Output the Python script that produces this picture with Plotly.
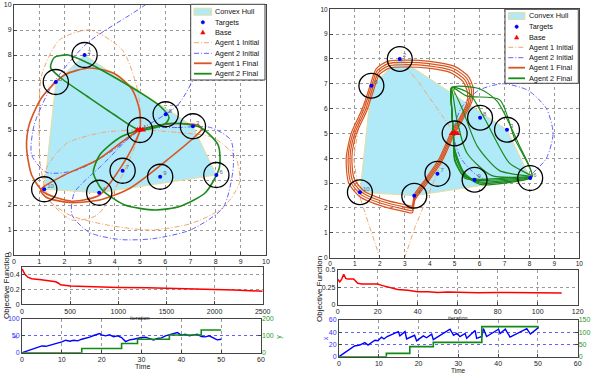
import plotly.graph_objects as go

W, H = 591, 374
FONT = "Liberation Sans"

# ---------------- data ----------------
target_ids = [1, 2, 3, 4, 5, 6, 7, 8, 9, 10]
target_x = [5.0, 2.8, 7.1, 3.38, 1.66, 8.03, 4.31, 6.02, 5.8, 1.2]
target_y = [5.0, 8.0, 5.15, 2.49, 6.92, 3.2, 3.37, 5.63, 3.13, 2.63]
target_r = 0.5
base_x = [4.9, 5.0, 5.1]
base_y = [5.0, 5.03, 5.0]

# left panel trajectories
L_a1i_x = [[5.0, 4.9, 4.3, 3.0, 1.8, 1.1, 1.0, 1.05, 1.4, 2.3, 3.3, 4.3, 5.0],
           [5.0, 6.5, 7.9, 8.8, 8.95, 8.3, 7.0, 5.4, 3.7, 2.2, 1.2, 1.3, 2.1, 3.5, 5.0]]
L_a1i_y = [[5.0, 6.6, 8.2, 9.0, 8.6, 7.2, 5.3, 3.6, 2.2, 1.4, 1.6, 3.2, 5.0],
           [5.0, 4.9, 4.7, 3.9, 2.9, 1.9, 1.25, 1.0, 1.2, 1.6, 2.4, 3.5, 4.47, 4.9, 5.0]]
L_a2i_x = [[5.0, 6.5, 7.5, 8.3, 8.4, 7.0, 5.2, 2.9, 1.56, 0.8, 0.7, 1.3, 2.5, 3.8, 5.0],
           [5.0, 6.5, 7.8, 8.6, 8.7, 8.3, 7.0, 5.5, 4.2, 3.0, 2.3, 2.4, 3.5, 5.0]]
L_a2i_y = [[5.0, 6.0, 7.8, 9.5, 10.8, 11.5, 10.0, 8.47, 6.87, 5.2, 4.0, 3.3, 3.4, 4.1, 5.0],
           [5.0, 5.1, 5.1, 4.6, 3.5, 1.9, 1.0, 0.65, 0.62, 0.9, 1.6, 2.5, 3.6, 5.0]]
L_a1f_x = [[5.0, 4.98, 4.7, 4.0, 3.0, 2.0, 1.1, 0.6, 0.5, 0.7, 1.2, 2.3, 3.4, 4.3, 4.75, 5.0],
           [5.0, 6.3, 7.3, 7.45, 7.3, 6.2, 4.6, 3.4, 2.2, 1.3, 1.05, 2.0, 3.3, 5.0]]
L_a1f_y = [[5.0, 5.8, 6.6, 7.25, 7.48, 7.2, 6.3, 5.2, 4.3, 3.2, 2.5, 2.15, 2.4, 3.6, 4.4, 5.0],
           [5.0, 5.25, 5.2, 5.05, 4.85, 3.9, 2.67, 2.2, 2.1, 2.3, 2.6, 3.2, 3.8, 5.0]]
L_a2f_x = [[5.0, 6.0, 6.15, 5.8, 5.0, 4.0, 3.0, 2.15, 1.6, 1.45, 1.9, 2.9, 4.0, 5.0],
           [5.0, 6.3, 7.4, 8.1, 8.15, 7.6, 6.6, 5.6, 4.4, 3.5, 3.15, 3.4, 4.2, 5.0]]
L_a2f_y = [[5.0, 5.25, 5.5, 5.95, 6.5, 7.1, 7.65, 8.0, 7.9, 7.5, 7.05, 6.35, 5.6, 5.0],
           [5.0, 5.27, 5.1, 4.4, 3.5, 2.5, 1.95, 1.8, 2.0, 2.6, 3.3, 4.0, 4.7, 5.0]]

# right panel trajectories
R_a1i_x = [5.0, 4.3, 3.4, 2.5, 1.6, 1.15, 0.95, 1.2, 1.64, 2.1, 2.8, 3.6, 4.3, 5.0]
R_a1i_y = [5.0, 3.4, 1.2, -1.5, 1.2, 2.6, 4.0, 5.6, 6.9, 7.6, 8.0, 7.0, 6.0, 5.0]
R_a2i_x = [4.95, 5.25, 5.95, 6.95, 7.95, 8.68, 8.95, 8.68, 7.95, 6.95, 5.95, 5.25, 4.95]
R_a2i_y = [5.0, 6.0, 6.73, 7.0, 6.73, 6.0, 5.0, 4.0, 3.27, 3.0, 3.27, 4.0, 5.0]
R_a1f_x = [5.0, 5.35, 5.7, 5.75, 5.55, 5.0, 4.0, 3.0, 2.3, 1.85, 1.6, 1.3, 0.85, 0.65,
           0.75, 1.2, 2.0, 3.0, 3.3, 3.4, 3.9, 4.5, 5.0]
R_a1f_y = [5.0, 5.6, 6.3, 6.8, 7.3, 7.7, 7.9, 7.95, 7.9, 7.6, 6.9, 6.0, 5.0, 4.0,
           3.0, 2.45, 2.1, 1.85, 1.8, 2.3, 3.0, 3.9, 5.0]
R_a1f_scales = [1.0, 0.97, 0.94, 0.91]
R_a1f_center = (3.2, 4.9)
R_a2f_x = [[4.95, 4.88, 4.88, 5.5, 6.8, 7.4, 8.1, 7.0, 6.0, 5.4, 5.0, 4.95],
           [4.95, 4.88, 4.88, 5.6, 6.2, 7.2, 8.1, 7.0, 6.0, 5.4, 5.0, 4.95],
           [4.95, 4.88, 4.88, 5.3, 5.9, 6.8, 8.1, 7.0, 6.0, 5.4, 5.0, 4.95],
           [4.95, 4.88, 4.88, 6.0, 6.7, 7.6, 8.1, 7.0, 6.0, 5.4, 5.0, 4.95],
           [4.95, 4.88, 4.88, 5.1, 5.5, 6.5, 8.1, 7.0, 6.0, 5.4, 5.0, 4.95]]
R_a2f_y = [[5.0, 6.0, 6.85, 6.5, 6.36, 4.8, 3.25, 3.05, 3.0, 3.4, 4.3, 5.0],
           [5.0, 6.0, 6.85, 6.6, 5.6, 3.8, 3.25, 3.1, 3.05, 3.3, 4.2, 5.0],
           [5.0, 6.0, 6.85, 6.0, 4.5, 3.5, 3.25, 3.15, 3.1, 3.2, 4.0, 5.0],
           [5.0, 6.0, 6.85, 6.8, 6.3, 4.5, 3.25, 3.0, 2.95, 3.35, 4.4, 5.0],
           [5.0, 6.0, 6.85, 5.5, 4.2, 3.3, 3.25, 3.2, 3.15, 3.25, 3.9, 5.0]]

# objective functions
L_obj_iter = [0, 10, 30, 60, 100, 200, 300, 350, 380, 400, 500, 700, 1000, 1300, 1500,
              1700, 2000, 2200, 2500]
L_obj_val = [0.47, 0.44, 0.40, 0.36, 0.34, 0.325, 0.31, 0.30, 0.28, 0.26, 0.245, 0.235,
             0.225, 0.22, 0.215, 0.21, 0.20, 0.19, 0.175]
R_obj_iter = [0, 1, 2, 3, 4, 5, 8, 10, 12, 20, 22, 25, 28, 30, 35, 40, 45, 50, 55, 60,
              70, 80, 90, 100, 112]
R_obj_val = [0.37, 0.33, 0.37, 0.44, 0.38, 0.37, 0.37, 0.31, 0.30, 0.30, 0.28, 0.26, 0.24,
             0.22, 0.21, 0.19, 0.19, 0.18, 0.185, 0.18, 0.175, 0.18, 0.175, 0.175, 0.17]

# x / y time series
L_t = [0, 2, 4, 5, 6, 8, 10, 11, 12, 13, 14, 15, 16, 17, 18, 19, 19.5, 20, 21, 22, 23, 24,
       25, 26, 27, 28, 29, 30, 31, 32, 33, 34, 35, 36, 37, 38, 39, 40, 41, 42, 43, 44, 45,
       46, 47, 48, 49, 50]
L_x = [0, 8, 17, 20, 19, 25, 32, 37, 34, 37, 35, 40, 42, 46, 51, 55, 57, 53, 50, 53, 47, 50,
       45, 33, 38, 40, 43, 45, 46, 42, 38, 42, 44, 50, 53, 55, 60, 52, 55, 50, 53, 55, 48,
       47, 50, 45, 38, 40]
L_step_t = [0, 15, 25, 29, 37, 45, 50]
L_step_y = [0, 25, 55, 80, 105, 135, 135]
R_t = [0, 3.9, 5.2, 6.5, 7.3, 9, 9.8, 10.7, 11.3, 12.1, 14.9, 15.3, 16.6, 17, 19, 19.5,
       21.2, 22, 23.3, 23.7, 27.9, 28.8, 29.6, 30.4, 31.7, 32.1, 34.2, 34.6, 35.9, 36.3,
       37.1, 40.1, 40.5, 41.8, 43, 47.2, 48.1, 50.2]
R_x = [0, 17.5, 19, 23, 19, 27, 26, 32, 29, 33, 41, 34, 41, 29, 35, 26, 34, 31, 37, 28,
       45, 35, 38, 33, 38, 30, 43, 30, 33, 46, 33, 45, 38, 45, 32, 46, 37, 48]
R_step_t = [0, 11.9, 17.8, 23.7, 35.9, 50.2]
R_step_y = [0, 13.6, 41, 58.7, 122.8, 122.8]

# ---------------- styles ----------------
HULL_FILL = "#b0e9f8"
HULL_EDGE = "#eedd99"
C_A1I = "#f2a66a"
C_A2I = "#5f5fff"
C_A1F = "#d9541e"
C_A2F = "#1a8a1a"
DASHDOT = "5px,2px,1px,2px"


def hull(xs, ys):
    pts = sorted(set(zip(xs, ys)))

    def cross(o, a, b):
        return (a[0] - o[0]) * (b[1] - o[1]) - (a[1] - o[1]) * (b[0] - o[0])
    lower, upper = [], []
    for p in pts:
        while len(lower) >= 2 and cross(lower[-2], lower[-1], p) <= 0:
            lower.pop()
        lower.append(p)
    for p in reversed(pts):
        while len(upper) >= 2 and cross(upper[-2], upper[-1], p) <= 0:
            upper.pop()
        upper.append(p)
    h = lower[:-1] + upper[:-1]
    h.append(h[0])
    return [p[0] for p in h], [p[1] for p in h]


def xd(a, b):
    return [a / W, b / W]


def yd(top, bottom):
    return [1 - bottom / H, 1 - top / H]


fig = go.Figure()
shapes = []
annotations = []

hx, hy = hull(target_x, target_y)


def map_panel(xa, ya, a1i, a2i, a1f, a2f, a1i_shape="spline", fw=1.6):
    fig.add_trace(go.Scatter(x=hx, y=hy, fill="toself", fillcolor=HULL_FILL, mode="lines",
                             line=dict(color=HULL_EDGE, width=1), xaxis=xa, yaxis=ya,
                             showlegend=False, hoverinfo="skip"))
    for (xs, ys), col, w, dash, shape in (
            [(p, C_A1I, 1.0, DASHDOT, a1i_shape) for p in a1i] +
            [(p, C_A2I, 1.0, DASHDOT, "spline") for p in a2i] +
            [(p, C_A1F, fw, "solid", "spline") for p in a1f] +
            [(p, C_A2F, fw, "solid", "spline") for p in a2f]):
        fig.add_trace(go.Scatter(x=xs, y=ys, mode="lines",
                                 line=dict(color=col, width=w, dash=dash, shape=shape,
                                           smoothing=0.7),
                                 xaxis=xa, yaxis=ya, showlegend=False, hoverinfo="skip"))
    for tx, ty in zip(target_x, target_y):
        shapes.append(dict(type="circle", xref=xa, yref=ya, x0=tx - target_r, x1=tx + target_r,
                           y0=ty - target_r, y1=ty + target_r,
                           line=dict(color="black", width=1.3), layer="above"))
    fig.add_trace(go.Scatter(x=target_x, y=target_y, mode="markers",
                             marker=dict(color="blue", size=4), xaxis=xa, yaxis=ya,
                             showlegend=False, hoverinfo="skip"))
    fig.add_trace(go.Scatter(x=[v + 0.12 for v in target_x], y=[v + 0.12 for v in target_y],
                             mode="text", text=[str(i) for i in target_ids],
                             textfont=dict(size=6, color="#666", family=FONT),
                             textposition="middle right", xaxis=xa, yaxis=ya,
                             showlegend=False, hoverinfo="skip"))
    fig.add_trace(go.Scatter(x=base_x, y=base_y, mode="markers",
                             marker=dict(color="red", size=6, symbol="triangle-up"),
                             xaxis=xa, yaxis=ya, showlegend=False, hoverinfo="skip"))


map_panel("x", "y", list(zip(L_a1i_x, L_a1i_y)), list(zip(L_a2i_x, L_a2i_y)),
          list(zip(L_a1f_x, L_a1f_y)), list(zip(L_a2f_x, L_a2f_y)))

cx, cy = R_a1f_center
r_a1f = [([cx + (v - cx) * s for v in R_a1f_x], [cy + (v - cy) * s for v in R_a1f_y])
         for s in R_a1f_scales]
map_panel("x5", "y5", [(R_a1i_x, R_a1i_y)], [(R_a2i_x, R_a2i_y)], r_a1f,
          list(zip(R_a2f_x, R_a2f_y)), a1i_shape="linear", fw=1.2)

# objective functions
fig.add_trace(go.Scatter(x=L_obj_iter, y=L_obj_val, mode="lines",
                         line=dict(color="red", width=1.5), xaxis="x2", yaxis="y2",
                         showlegend=False))
fig.add_trace(go.Scatter(x=R_obj_iter, y=R_obj_val, mode="lines",
                         line=dict(color="red", width=1.5), xaxis="x6", yaxis="y6",
                         showlegend=False))
# x / y
fig.add_trace(go.Scatter(x=L_t, y=L_x, mode="lines", line=dict(color="blue", width=1.4),
                         xaxis="x3", yaxis="y3", showlegend=False))
fig.add_trace(go.Scatter(x=L_step_t, y=L_step_y, mode="lines",
                         line=dict(color="#138a13", width=1.6, shape="hv"),
                         xaxis="x3", yaxis="y4", showlegend=False))
fig.add_trace(go.Scatter(x=R_t, y=R_x, mode="lines", line=dict(color="blue", width=1.4),
                         xaxis="x7", yaxis="y7", showlegend=False))
fig.add_trace(go.Scatter(x=R_step_t, y=R_step_y, mode="lines",
                         line=dict(color="#138a13", width=1.6, shape="hv"),
                         xaxis="x7", yaxis="y8", showlegend=False))


def ax(**kw):
    d = dict(showline=True, linecolor="#444", linewidth=1, mirror=True, ticks="inside",
             ticklen=3, tickcolor="#444", showgrid=True, gridcolor="#9a9a9a",
             griddash="dot", gridwidth=1, zeroline=False, automargin=False,
             tickfont=dict(size=7, color="#222", family=FONT))
    d.update(kw)
    return d


layout = dict(
    width=W, height=H, margin=dict(l=0, r=0, t=0, b=0, autoexpand=False),
    paper_bgcolor="white", plot_bgcolor="white", showlegend=False,
    font=dict(family=FONT),
    # left map
    xaxis=ax(domain=xd(14, 266), range=[0, 10], dtick=1, anchor="y"),
    yaxis=ax(domain=yd(5, 255), range=[0, 10], dtick=1, anchor="x"),
    # left objective
    xaxis2=ax(domain=xd(22, 262.7), range=[0, 2500], dtick=500, anchor="y2"),
    yaxis2=ax(domain=yd(266.7, 304.3), range=[0, 0.5], tickvals=[0, 0.2, 0.4],
              ticktext=["0", "0.2", "0.4"], anchor="x2"),
    # left x/y
    xaxis3=ax(domain=xd(22, 261), range=[0, 60], dtick=10, anchor="y3"),
    yaxis3=ax(domain=yd(319, 352.7), range=[0, 100], tickvals=[0, 50, 100], anchor="x3",
              gridcolor="#6060ff", tickfont=dict(size=7, color="#3333ff", family=FONT)),
    yaxis4=dict(overlaying="y3", side="right", anchor="x3", range=[0, 200],
                tickvals=[0, 100, 200], showgrid=False, zeroline=False, showline=False,
                ticks="inside", ticklen=3, tickcolor="#444", automargin=False,
                tickfont=dict(size=7, color="#2a9a2a", family=FONT)),
    # right map
    xaxis5=ax(domain=xd(330, 579.3), range=[0, 10], dtick=1, anchor="y5",
              tickfont=dict(size=6.5, color="#222", family=FONT)),
    yaxis5=ax(domain=yd(9.3, 257.5), range=[0, 10], dtick=1, anchor="x5",
              tickfont=dict(size=6.5, color="#222", family=FONT)),
    # right objective
    xaxis6=ax(domain=xd(337.7, 577.7), range=[0, 120], dtick=20, anchor="y6"),
    yaxis6=ax(domain=yd(270, 305), range=[0, 0.5], tickvals=[0, 0.25, 0.5],
              ticktext=["0", "0.25", "0.5"], anchor="x6"),
    # right x/y
    xaxis7=ax(domain=xd(339, 577.7), range=[0, 60], dtick=10, anchor="y7"),
    yaxis7=ax(domain=yd(320, 356.7), range=[0, 60], tickvals=[0, 20, 40, 60], anchor="x7",
              gridcolor="#6060ff", tickfont=dict(size=7, color="#3333ff", family=FONT)),
    yaxis8=dict(overlaying="y7", side="right", anchor="x7", range=[0, 150],
                tickvals=[0, 50, 100, 150], showgrid=False, zeroline=False, showline=False,
                ticks="inside", ticklen=3, tickcolor="#444", automargin=False,
                tickfont=dict(size=7, color="#2a9a2a", family=FONT)),
)


def pxp(px, py):
    return px / W, 1 - py / H


def text(px, py, s, size=7, color="#222", angle=0, xanchor="center"):
    x, y = pxp(px, py)
    annotations.append(dict(x=x, y=y, xref="paper", yref="paper", text=s, showarrow=False,
                            textangle=angle, xanchor=xanchor, yanchor="middle",
                            font=dict(size=size, color=color, family=FONT)))


# axis labels
text(6, 286, "Objective Function", 8, "#111", -90)
text(319, 289, "Objective Function", 8, "#111", -90)
text(140, 317.5, "iteration", 5.5, "#222")
text(458, 318, "iteration", 5.5, "#222")
text(142, 366, "Time", 7, "#222")
text(458, 370, "Time", 6.5, "#222")
text(15, 336.7, "x", 7, "#3333ff", -90)
text(325, 338.3, "x", 7, "#3333ff", -90)
text(279, 336.7, "y", 7, "#2a9a2a", -90)

legend_labels = ["Convex Hull", "Targets", "Base", "Agent 1 Initial", "Agent 2 Initial",
                 "Agent 1 Final", "Agent 2 Final"]


def legend(box, rows, sw0, sw1, tx):
    x0, y0 = pxp(box[0], box[2])
    x1, y1 = pxp(box[1], box[3])
    shapes.append(dict(type="rect", xref="paper", yref="paper", x0=x0, x1=x1, y0=y1, y1=y0,
                       fillcolor="white", line=dict(color="#444", width=1), layer="above"))
    xm = (sw0 + sw1) / 2
    for lab, yc in zip(legend_labels, rows):
        if lab == "Convex Hull":
            a0, b0 = pxp(sw0, yc - 3.5)
            a1, b1 = pxp(sw1, yc + 3.5)
            shapes.append(dict(type="rect", xref="paper", yref="paper", x0=a0, x1=a1,
                               y0=b1, y1=b0, fillcolor=HULL_FILL,
                               line=dict(color=HULL_EDGE, width=1), layer="above"))
        elif lab == "Targets":
            a0, b0 = pxp(xm - 1.7, yc - 1.7)
            a1, b1 = pxp(xm + 1.7, yc + 1.7)
            shapes.append(dict(type="circle", xref="paper", yref="paper", x0=a0, x1=a1,
                               y0=b1, y1=b0, fillcolor="blue",
                               line=dict(color="blue", width=0.5), layer="above"))
        elif lab == "Base":
            p1 = pxp(xm - 2.2, yc + 1.8)
            p2 = pxp(xm + 2.2, yc + 1.8)
            p3 = pxp(xm, yc - 2.2)
            shapes.append(dict(type="path", xref="paper", yref="paper",
                               path=f"M {p1[0]},{p1[1]} L {p2[0]},{p2[1]} L {p3[0]},{p3[1]} Z",
                               fillcolor="red", line=dict(color="red", width=0.5),
                               layer="above"))
        else:
            col = {"Agent 1 Initial": C_A1I, "Agent 2 Initial": C_A2I,
                   "Agent 1 Final": C_A1F, "Agent 2 Final": C_A2F}[lab]
            dash = DASHDOT if "Initial" in lab else "solid"
            wid = 1.0 if "Initial" in lab else 1.8
            a0, b0 = pxp(sw0, yc)
            a1, _ = pxp(sw1, yc)
            shapes.append(dict(type="line", xref="paper", yref="paper", x0=a0, x1=a1,
                               y0=b0, y1=b0, line=dict(color=col, width=wid, dash=dash),
                               layer="above"))
        text(tx, yc, lab, 7.3, "#111", 0, "left")


legend((190.7, 265, 4.3, 80), [11.7, 22.3, 32.3, 42.7, 53.3, 63.3, 73.7], 194, 211.7, 212.5)
legend((505, 578.3, 9.3, 83.3), [16, 26.7, 37.3, 47.3, 57.7, 67.7, 78.3], 508.3, 525, 526.5)

layout["shapes"] = shapes
layout["annotations"] = annotations
fig.update_layout(**layout)
fig.write_html("out.html", config={"responsive": False, "displayModeBar": False},
               post_script="document.body.style.margin='0';document.body.style.padding='0';")
